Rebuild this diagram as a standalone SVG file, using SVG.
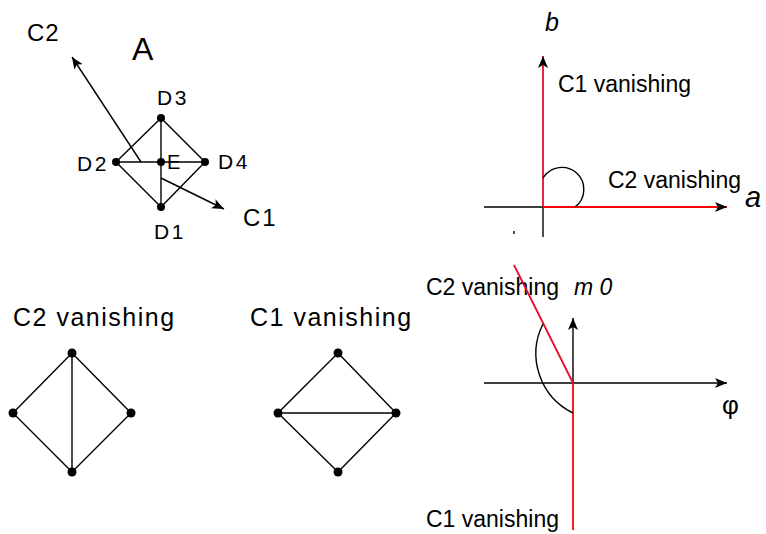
<svg xmlns="http://www.w3.org/2000/svg" width="766" height="534" viewBox="0 0 766 534">
<style>
  text { font-family: "Liberation Sans", Arial, sans-serif; fill: #000; }
  .ln { stroke: #000; stroke-width: 1.4; fill: none; }
  .red { stroke: #e4102e; stroke-width: 1.8; fill: none; }
  .red2 { stroke: #ff0000; stroke-width: 1.8; fill: none; }
  .dot { fill: #000; }
  .it { font-style: italic; }
</style>
<defs>
  <marker id="ah" markerUnits="userSpaceOnUse" markerWidth="14" markerHeight="12" refX="12" refY="5" orient="auto">
    <path d="M0,0 L12,5 L0,10 L3,5 z" fill="#000"/>
  </marker>
</defs>

<g id="node-A">
  <text x="132" y="60" font-size="32">A</text>
  <text x="27" y="41" font-size="24" letter-spacing="1">C2</text>
  <text x="243" y="226" font-size="24" letter-spacing="2">C1</text>
</g>
<g id="node-D3"><circle class="dot" cx="161" cy="118" r="4"/><text x="157" y="105" font-size="21" letter-spacing="2.5">D3</text></g>
<g id="node-D2"><circle class="dot" cx="116" cy="162" r="4"/><text x="77" y="171" font-size="21" letter-spacing="2.5">D2</text></g>
<g id="node-E"><circle class="dot" cx="161" cy="162" r="4"/><text x="167" y="169" font-size="20">E</text></g>
<g id="node-D4"><circle class="dot" cx="205" cy="162" r="4"/><text x="218" y="169" font-size="21" letter-spacing="2.5">D4</text></g>
<g id="node-D1"><circle class="dot" cx="161" cy="207" r="4"/><text x="154" y="239" font-size="21" letter-spacing="2.5">D1</text></g>

<g id="node-left-diamond">
  <circle class="dot" cx="72" cy="353" r="4.5"/>
  <circle class="dot" cx="13" cy="413" r="4.5"/>
  <circle class="dot" cx="131" cy="413" r="4.5"/>
  <circle class="dot" cx="72" cy="472" r="4.5"/>
  <text x="13" y="326" font-size="25" letter-spacing="1.5">C2 vanishing</text>
</g>
<g id="node-right-diamond">
  <circle class="dot" cx="338" cy="353" r="4.5"/>
  <circle class="dot" cx="278" cy="413" r="4.5"/>
  <circle class="dot" cx="396" cy="413" r="4.5"/>
  <circle class="dot" cx="338" cy="472" r="4.5"/>
  <text x="250" y="326" font-size="25" letter-spacing="1.5">C1 vanishing</text>
</g>

<g id="node-ab-plot">
  <text x="545" y="31" font-size="25" class="it">b</text>
  <text x="745" y="207" font-size="29" class="it">a</text>
  <text x="558" y="92" font-size="23">C1 vanishing</text>
  <text x="608" y="188" font-size="23">C2 vanishing</text>
  <line class="ln" x1="514" y1="231" x2="514" y2="234"/>
</g>

<g id="node-m0-plot">
  <text x="426" y="295" font-size="23">C2 vanishing</text>
  <text x="574" y="295" font-size="23" class="it">m 0</text>
  <text x="722" y="414" font-size="26">φ</text>
  <text x="426" y="527" font-size="23">C1 vanishing</text>
</g>

<g id="connectors">
  <!-- top-left graph -->
  <line class="ln" x1="161" y1="118" x2="205" y2="162"/>
  <line class="ln" x1="205" y1="162" x2="161" y2="207"/>
  <line class="ln" x1="161" y1="207" x2="116" y2="162"/>
  <line class="ln" x1="116" y1="162" x2="161" y2="118"/>
  <line class="ln" x1="116" y1="162" x2="205" y2="162"/>
  <line class="ln" x1="161" y1="118" x2="161" y2="207"/>
  <line class="ln" x1="141" y1="162" x2="72" y2="57" marker-end="url(#ah)"/>
  <line class="ln" x1="161" y1="178" x2="224" y2="209" marker-end="url(#ah)"/>

  <!-- bottom-left diamonds -->
  <polygon class="ln" points="72,353 131,413 72,472 13,413"/>
  <line class="ln" x1="72" y1="353" x2="72" y2="472"/>
  <polygon class="ln" points="338,353 396,413 338,472 278,413"/>
  <line class="ln" x1="278" y1="413" x2="396" y2="413"/>

  <!-- a-b axes -->
  <line class="ln" x1="484" y1="207" x2="543" y2="207"/>
  <line class="ln" x1="543" y1="207" x2="543" y2="237"/>
  <line class="red" x1="543" y1="207" x2="543" y2="56" marker-end="url(#ah)"/>
  <line class="red2" x1="543" y1="207" x2="727" y2="207" marker-end="url(#ah)"/>
  <path class="ln" d="M543,178 A22,22 0 1 1 575,207"/>

  <!-- m0-phi axes -->
  <line class="ln" x1="484" y1="383" x2="727" y2="383" marker-end="url(#ah)"/>
  <line class="ln" x1="573" y1="383" x2="573" y2="318" marker-end="url(#ah)"/>
  <line class="red" x1="573" y1="383" x2="514" y2="265"/>
  <line class="red2" x1="573" y1="383" x2="573" y2="530"/>
  <path class="ln" d="M543,324 A66,66 0 0 0 573,413"/>
</g>
</svg>
